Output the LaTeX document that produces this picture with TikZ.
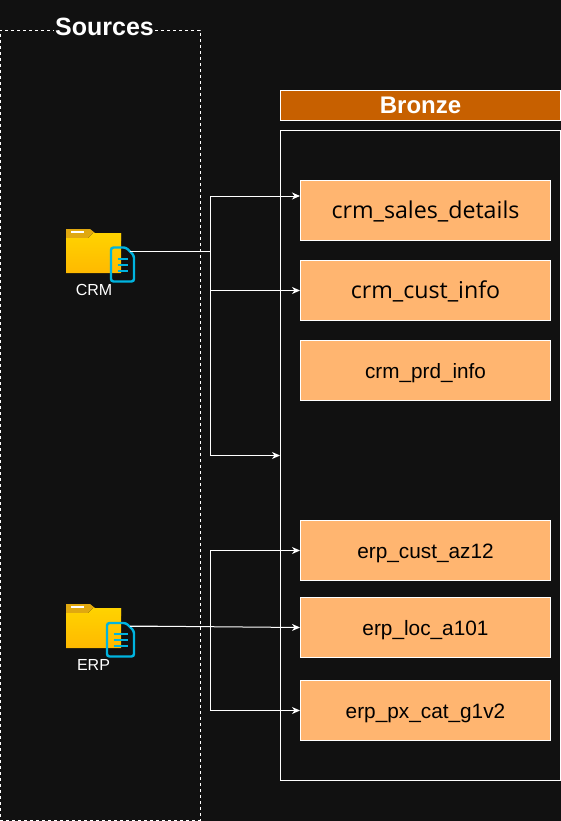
\documentclass[tikz,border=0pt]{standalone}
\usepackage{fontspec}
\setmainfont{Liberation Sans}
\newfontfamily\boxfont{Open Sans}
\usetikzlibrary{arrows.meta}

\definecolor{pagebg}{HTML}{111111}
\definecolor{boxfill}{HTML}{FFB570}
\definecolor{bronzefill}{HTML}{C76000}
\definecolor{foldertab}{HTML}{E0A810}
\definecolor{foldertop}{HTML}{FFD300}
\definecolor{folderlow}{HTML}{FFB900}
\definecolor{doccyan}{HTML}{00B4E0}

\tikzset{
  tablebox/.style={draw=white, fill=boxfill, line width=1pt, minimum width=250pt, minimum height=60pt, inner sep=0pt, text=black},
  link/.style={draw=white, line width=1pt, -{Stealth[length=8pt,width=7pt,inset=2.5pt]}},
  sourcelabel/.style={text=white, font=\fontsize{16}{18}\selectfont, inner sep=0pt},
}

% folder at (#1,#2), paper from x=#3 to x=68, its top at y=#4
\newcommand{\foldericon}[4]{
\begin{scope}[shift={(#1,#2)}]
\fill[foldertab] (0,0)--(24,0)--(29,4)--(55,4)--(55,12)--(0,12)--cycle;
\fill[top color=foldertop, bottom color=folderlow] (0,9)--(22,9)--(27,4)--(55,4)--(55,44)--(0,44)--cycle;
\fill[white] (5,2.2) rectangle (18,4.2);
\draw[doccyan, line width=2.4pt, rounded corners=2.5pt] (#3,#4)--(60,#4)--(68,#4+8)--(68,52.5)--(#3,52.5)--cycle;
\foreach \y in {30,36,42}{% the three lines on the paper
    \draw[doccyan, line width=2.4pt] (#3+6.5,\y)--(62,\y);}
\end{scope}
}

\begin{document}
\begin{tikzpicture}[x=1pt,y=-1pt]
\useasboundingbox (0,0) rectangle (561,821);
\fill[pagebg] (0,0) rectangle (561,821);

%sources side
\node[draw=white, dashed, line width=.8pt, minimum width=200pt, minimum height=790pt, inner sep=0pt] (sources) at (100,425) {};
\node[fill=pagebg, text=white, inner sep=1.5pt, font=\bfseries\fontsize{25}{27}\selectfont] (sourcestitle) at (104.5,27) {Sources};

%bronze side
\node[draw=white, fill=bronzefill, text=white, line width=1pt, minimum width=280pt, minimum height=30pt, inner sep=0pt, font=\bfseries\fontsize{24}{26}\selectfont] (bronze) at (420.5,105.5) {Bronze};
\node[draw=white, line width=1pt, minimum width=280pt, minimum height=650pt, inner sep=0pt] (layer) at (420.5,455.5) {};

\foreach \name/\y/\fnt/\size/\label in {
    crmsales/210.5/\boxfont/23.2/crm\_sales\_details,
    crmcust/290.5/\boxfont/23.2/crm\_cust\_info,
    crmprd/370.5/\rmfamily/20.7/crm\_prd\_info,
    erpcust/550.5/\rmfamily/20.8/erp\_cust\_az12,
    erploc/627.5/\rmfamily/20.8/erp\_loc\_a101,
    erppx/710.5/\rmfamily/20.8/erp\_px\_cat\_g1v2}{
    \node[tablebox] (\name) at (425.5,\y) {\raisebox{-8pt}[0pt][0pt]{\fnt\fontsize{\size}{\size}\selectfont\label}};}

%icons
\foldericon{66}{229}{45}{18.5}
\foldericon{66}{604}{41}{19}
\node[sourcelabel] (crmlabel) at (94,290) {CRM};
\node[sourcelabel] (erplabel) at (93.5,665) {ERP};
\coordinate (crmout) at (130,251);
\coordinate (erpout) at (130,626);

%connectors
\draw[link] (crmout)--(210.5,251)|-([yshift=14.5pt]crmsales.west);
\draw[link] (crmout)--(210.5,251)|-(crmcust.west);
\draw[link] (crmout)--(210.5,251)|-(layer.west);
\draw[link] (erpout)--(210.5,626)|-(erpcust.west);
\draw[link] (erpout)--(erploc.west);
\draw[link] (erpout)--(210.5,626)|-(erppx.west);

\end{tikzpicture}
\end{document}
